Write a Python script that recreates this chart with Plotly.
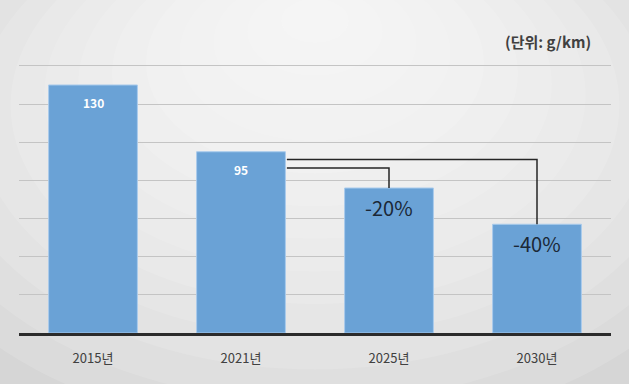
import plotly.graph_objects as go

categories = ["2015년", "2021년", "2025년", "2030년"]
values = [130, 95, 76, 57]
value_labels = ["130", "95", "", ""]
unit_label = "(단위: g/km)"

bar_color = "#6aa2d6"
bar_width = 0.6
font_kr = "Noto Sans CJK KR"

fig = go.Figure()
fig.add_trace(go.Bar(
    x=list(range(len(categories))), y=values, width=bar_width,
    marker=dict(color=bar_color, line=dict(color="#a9cbec", width=1)),
    hoverinfo="skip",
))

shapes = []
# soft radial background gradient (decoration)
n = 14
for i in range(n):
    f = 1 - i / n
    shapes.append(dict(type="circle", xref="paper", yref="paper", layer="below",
                       x0=0.5 - 0.8 * f, x1=0.5 + 0.8 * f,
                       y0=1.2 - 1.7 * f, y1=1.2 + 0.6 * f,
                       fillcolor="rgba(255,255,255,0.13)", line=dict(width=0)))

annotations = []
for i, lab in enumerate(value_labels):
    if lab:
        annotations.append(dict(x=i, y=values[i], text=lab, showarrow=False,
                                yshift=-18, font=dict(color="white", size=12, family=font_kr, weight="bold")))

# brackets from 2021 bar to later bars
edge = 1 + bar_width / 2
offsets = {2: 8.5, 3: 4}
for j in (2, 3):
    yb = values[1] - offsets[j]
    shapes.append(dict(type="path", xref="x", yref="y",
                       path=f"M {edge + 0.01} {yb} L {j} {yb} L {j} {values[j]}",
                       line=dict(color="#262626", width=1.5)))
    pct = round((values[j] / values[1] - 1) * 100)
    annotations.append(dict(x=j, y=values[j], text=f"-{abs(pct)}%", showarrow=False,
                            yshift=-19, font=dict(color="#1b2836", size=20, family=font_kr)))

annotations.append(dict(x=0.97, xref="paper", y=1.085, yref="paper", text=unit_label,
                        showarrow=False, xanchor="right", yanchor="middle",
                        font=dict(color="#404040", size=15, family=font_kr, weight="bold")))

fig.update_layout(
    width=629, height=384,
    margin=dict(l=19, r=18, t=64, b=51),
    paper_bgcolor="#d0d0d0", plot_bgcolor="rgba(0,0,0,0)",
    showlegend=False, bargap=0.4,
    shapes=shapes, annotations=annotations,
    xaxis=dict(tickmode="array", tickvals=list(range(len(categories))), ticktext=categories,
               range=[-0.5, len(categories) - 0.5], showline=True, linecolor="#2b2b2b", linewidth=2.5,
               showgrid=False, ticks="", ticklabelstandoff=12,
               tickfont=dict(family=font_kr, size=13, color="#404040")),
    yaxis=dict(range=[0, 141], tickvals=[20, 40, 60, 80, 100, 120, 140], showticklabels=False,
               gridcolor="#c4c4c4", gridwidth=1.3, zeroline=False, fixedrange=True),
)

fig.write_html("out.html", config={"displayModeBar": False},
               post_script="document.body.style.margin='0';")
